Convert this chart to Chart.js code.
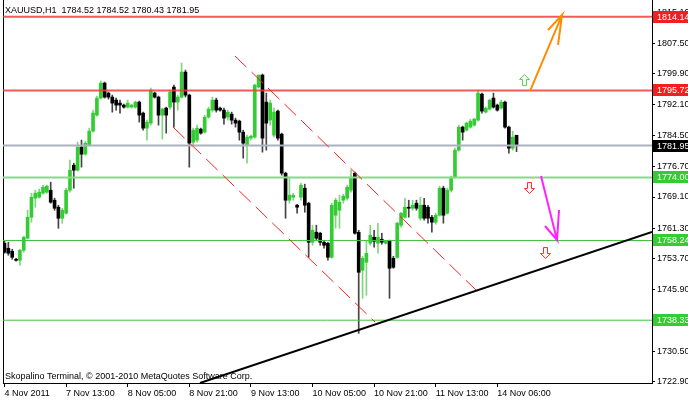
<!DOCTYPE html>
<html>
<head>
<meta charset="utf-8">
<script src="https://cdn.jsdelivr.net/npm/chart.js@4.4.1/dist/chart.umd.min.js"></script>
<style>
  html, body { margin: 0; padding: 0; background: #fff; }
  canvas { display: block; }
</style>
</head>
<body>
<canvas id="chart" width="688" height="401"></canvas>
<script>
const symbolTitle = 'XAUUSD,H1  1784.52 1784.52 1780.43 1781.95';
const footerText = 'Skopalino Terminal, \u00A9 2001-2010 MetaQuotes Software Corp.';

// H1 candles, 4 Nov 2011 -> 14 Nov 2011
const opens = [
  1757.55, 1756.3, 1755.55, 1753.55, 1753.3, 1755.8, 1758.8, 1764.05, 1768.8, 1769.05,
  1770.05, 1770.3, 1770.8, 1768.3, 1766.55, 1763.8, 1765.05, 1770.8, 1777.05, 1775.8,
  1781.55, 1779.8, 1782.05, 1785.55, 1789.55, 1793.8, 1797.55, 1795.05, 1794.05, 1793.3,
  1792.55, 1792.05, 1791.55, 1791.55, 1791.55, 1792.8, 1790.05, 1786.3, 1787.55, 1795.05,
  1794.05, 1789.55, 1791.3, 1791.55, 1796.55, 1792.8, 1794.05, 1800.3, 1794.55, 1782.8,
  1783.3, 1786.05, 1785.3, 1789.05, 1790.8, 1793.3, 1791.3, 1790.8, 1789.05, 1789.8,
  1788.3, 1788.05, 1785.3, 1782.05, 1783.8, 1784.05, 1796.55, 1799.55, 1792.8, 1788.3,
  1784.55, 1790.55, 1784.8, 1775.05, 1768.3, 1769.05, 1767.05, 1769.05, 1771.3, 1767.55,
  1757.8, 1760.3, 1760.05, 1757.8, 1757.55, 1754.05, 1764.55, 1765.8, 1768.3, 1768.8,
  1770.8, 1775.05, 1760.3, 1750.8, 1752.8, 1757.55, 1759.05, 1757.55, 1758.55, 1757.55,
  1758.3, 1753.8, 1754.05, 1762.05, 1764.05, 1766.55, 1766.3, 1767.55, 1763.8, 1767.05,
  1766.55, 1764.05, 1762.8, 1764.55, 1771.3, 1765.05, 1770.8, 1774.05, 1780.8, 1786.55,
  1785.8, 1786.55, 1787.05, 1788.3, 1794.8, 1790.3, 1791.05, 1793.8, 1792.05, 1791.3,
  1792.8, 1786.55, 1781.3, 1784.52
];
const highs = [
  1758.3, 1757.8, 1756.05, 1753.8, 1756.05, 1759.3, 1765.8, 1770.05, 1770.8, 1771.05,
  1772.05, 1772.05, 1772.8, 1768.8, 1767.05, 1766.3, 1771.3, 1778.3, 1777.55, 1782.8,
  1783.3, 1783.05, 1786.3, 1790.8, 1794.3, 1798.05, 1797.8, 1795.3, 1794.55, 1793.8,
  1793.3, 1792.3, 1793.3, 1792.3, 1793.05, 1793.05, 1790.3, 1788.3, 1796.3, 1795.3,
  1794.3, 1791.3, 1791.55, 1795.8, 1797.05, 1794.55, 1802.55, 1800.8, 1794.8, 1786.3,
  1787.05, 1786.3, 1789.55, 1791.55, 1794.05, 1793.8, 1791.55, 1791.3, 1790.8, 1790.3,
  1788.8, 1788.3, 1785.8, 1784.55, 1784.55, 1797.3, 1799.55, 1799.8, 1795.05, 1793.3,
  1791.3, 1790.8, 1785.05, 1775.3, 1774.05, 1770.05, 1767.3, 1772.55, 1772.3, 1767.8,
  1762.05, 1762.05, 1760.3, 1758.3, 1757.8, 1767.55, 1768.8, 1769.55, 1769.8, 1772.05,
  1775.8, 1775.3, 1760.8, 1754.3, 1758.3, 1762.05, 1760.8, 1762.55, 1760.05, 1758.3,
  1758.3, 1754.3, 1762.8, 1765.3, 1768.8, 1768.3, 1768.3, 1768.3, 1769.05, 1768.8,
  1767.05, 1764.55, 1765.05, 1771.8, 1771.8, 1771.3, 1774.3, 1781.3, 1787.05, 1786.8,
  1787.8, 1788.55, 1788.8, 1795.8, 1795.05, 1791.55, 1793.55, 1795.05, 1792.3, 1793.3,
  1793.05, 1786.8, 1785.55, 1784.52
];
const lows = [
  1755.05, 1754.55, 1753.55, 1753.05, 1752.05, 1755.3, 1758.8, 1762.8, 1766.55, 1768.8,
  1769.8, 1770.05, 1767.55, 1765.8, 1761.3, 1762.55, 1764.8, 1770.3, 1771.3, 1775.55,
  1776.55, 1779.55, 1781.8, 1785.3, 1789.3, 1793.55, 1793.8, 1793.55, 1790.3, 1790.8,
  1790.05, 1791.3, 1791.3, 1791.3, 1791.3, 1787.8, 1785.8, 1783.3, 1787.05, 1793.8,
  1787.05, 1783.55, 1785.05, 1791.05, 1786.55, 1790.8, 1793.8, 1794.05, 1776.55, 1782.05,
  1782.8, 1784.8, 1785.05, 1788.8, 1790.3, 1790.3, 1790.55, 1787.3, 1788.3, 1787.3,
  1786.55, 1783.3, 1778.8, 1777.55, 1783.3, 1783.8, 1796.3, 1780.3, 1780.8, 1787.05,
  1784.05, 1783.3, 1774.55, 1763.8, 1767.55, 1768.3, 1765.05, 1768.3, 1765.3, 1754.05,
  1757.05, 1758.3, 1757.05, 1756.3, 1753.3, 1753.8, 1761.3, 1761.3, 1767.55, 1768.3,
  1770.3, 1759.8, 1735.05, 1743.8, 1744.55, 1757.05, 1756.55, 1755.05, 1757.3, 1757.3,
  1743.8, 1751.3, 1753.8, 1761.55, 1763.8, 1764.05, 1765.8, 1765.8, 1763.3, 1763.3,
  1762.55, 1760.3, 1762.3, 1764.3, 1762.55, 1764.8, 1770.3, 1773.8, 1780.55, 1783.3,
  1785.55, 1786.3, 1786.8, 1788.05, 1790.05, 1790.05, 1790.8, 1791.3, 1790.55, 1791.05,
  1786.3, 1780.05, 1780.8, 1780.43
];
const closes = [
  1755.3, 1755.05, 1754.05, 1753.3, 1755.8, 1759.05, 1764.05, 1769.05, 1770.05, 1770.3,
  1771.55, 1771.8, 1767.8, 1766.3, 1763.8, 1765.8, 1770.8, 1775.8, 1775.8, 1781.55,
  1779.8, 1782.55, 1785.55, 1790.05, 1793.8, 1797.55, 1794.05, 1794.05, 1792.55, 1792.05,
  1792.05, 1791.55, 1792.55, 1792.05, 1792.8, 1789.55, 1786.3, 1787.8, 1795.8, 1794.05,
  1789.55, 1791.05, 1789.55, 1795.3, 1792.8, 1794.05, 1800.3, 1794.55, 1782.55, 1785.8,
  1786.3, 1785.05, 1789.05, 1791.05, 1793.3, 1790.8, 1790.8, 1788.8, 1790.3, 1788.3,
  1787.55, 1785.3, 1782.55, 1784.05, 1784.3, 1797.05, 1799.55, 1783.8, 1787.55, 1792.55,
  1790.3, 1783.8, 1775.05, 1768.3, 1769.55, 1769.55, 1766.55, 1772.05, 1767.05, 1757.8,
  1760.8, 1758.8, 1757.8, 1757.05, 1754.05, 1767.05, 1768.3, 1767.8, 1769.3, 1771.55,
  1774.05, 1760.05, 1750.3, 1753.8, 1755.05, 1759.55, 1758.05, 1759.05, 1757.8, 1758.05,
  1751.3, 1751.55, 1762.55, 1765.05, 1766.55, 1766.3, 1767.05, 1766.3, 1767.05, 1763.8,
  1763.8, 1762.8, 1764.55, 1771.3, 1764.55, 1770.8, 1774.05, 1780.8, 1786.55, 1785.3,
  1787.55, 1788.05, 1788.55, 1795.05, 1790.55, 1791.3, 1793.3, 1791.55, 1790.8, 1792.8,
  1786.55, 1781.3, 1784.05, 1781.95
];

const xTickIdx = [0, 16, 32, 48, 64, 80, 96, 112, 128];
const xTickLabels = ['4 Nov 2011', '7 Nov 13:00', '8 Nov 05:00', '8 Nov 21:00', '9 Nov 13:00',
  '10 Nov 05:00', '10 Nov 21:00', '11 Nov 13:00', '14 Nov 06:00'];
const yTicks = [1722.90, 1730.50, 1738.30, 1745.90, 1753.70, 1761.30, 1769.10,
  1776.70, 1784.50, 1792.10, 1799.90, 1807.50, 1815.10];

// horizontal price levels
const levels = [1814.14, 1795.72, 1781.95, 1774.00, 1758.24, 1738.33];

// drawn objects, as [barIndex, price] points
const channelUpper = [[59.87, 1804.31], [122.73, 1745.62]];
const channelLower = [[43.77, 1786.58], [96.23, 1737.88]];
const trendLine = [[50.78, 1722.65], [168.18, 1760.36]];
const orangeArrow = [[136.49, 1795.57], [144.81, 1814.55], [141.17, 1810.81], [144.81, 1814.55], [143.77, 1807.06]];
const magentaArrow = [[139.35, 1774.34], [143.51, 1758.36], [140.39, 1761.86], [143.51, 1758.36], [144.03, 1765.85]];
const upSign = [[134.94, 1798.32]];
const downSigns = [[136.23, 1771.6], [140.39, 1755.36]];

const xMin = -0.39, xMax = 168.18;
const yMin = 1722.65, yMax = 1818.3;

const levelColors = ['rgba(240,60,60,0.85)', 'rgba(240,60,60,0.85)', '#aab2be', '#86da86', '#44c044', '#44c044'];
const levelBoxColors = ['#f02020', '#f02020', '#000000', '#33cc33', '#33cc33', '#33cc33'];

const bull = opens.map((o, i) => closes[i] >= o);
const toPts = (arr) => arr.map(p => ({ x: p[0], y: p[1] }));

const datasets = [
  {
    type: 'line', data: toPts(orangeArrow), borderColor: '#ff8c00', borderWidth: 2,
    pointRadius: 0, fill: false, tension: 0, order: 0
  },
  {
    type: 'line', data: toPts(magentaArrow), borderColor: '#ff22ff', borderWidth: 2,
    pointRadius: 0, fill: false, tension: 0, order: 0
  },
  {
    type: 'line', data: toPts(trendLine), borderColor: '#000', borderWidth: 2,
    pointRadius: 0, fill: false, order: 1
  },
  {
    type: 'line', data: toPts(channelUpper), borderColor: '#ff2020', borderWidth: 1,
    borderDash: [16, 7], pointRadius: 0, fill: false, order: 2
  },
  {
    type: 'line', data: toPts(channelLower), borderColor: '#ff2020', borderWidth: 1,
    borderDash: [16, 7], pointRadius: 0, fill: false, order: 2
  }
];

levels.forEach((v, k) => {
  datasets.push({
    type: 'line', data: [{ x: xMin, y: v }, { x: xMax, y: v }],
    borderColor: levelColors[k], borderWidth: k >= 4 ? 1 : 2,
    pointRadius: 0, fill: false, order: 3
  });
});

// candle bodies
datasets.push({
  type: 'bar',
  data: opens.map((o, i) => ({ x: i, y: [o, closes[i]] })),
  backgroundColor: bull.map(b => b ? '#33cc33' : '#000000'),
  borderWidth: 0, barThickness: 3, minBarLength: 1, grouped: false, order: 4
});
// candle wicks
datasets.push({
  type: 'bar',
  data: lows.map((l, i) => ({ x: i, y: [l, highs[i]] })),
  backgroundColor: bull.map(b => b ? '#7fd67f' : '#444444'),
  borderWidth: 0, barThickness: 1, grouped: false, order: 5
});

function drawArrowSign(ctx, cx, cy, up, stroke, fill) {
  const s = up ? 1 : -1;
  const pts = [[0, -6], [5, -1], [2, -1], [2, 5], [-2, 5], [-2, -1], [-5, -1]];
  ctx.beginPath();
  pts.forEach((p, i) => {
    const px = cx + p[0] + 0.5, py = cy + s * p[1] + 0.5;
    if (i === 0) ctx.moveTo(px, py); else ctx.lineTo(px, py);
  });
  ctx.closePath();
  ctx.fillStyle = fill;
  ctx.fill();
  ctx.strokeStyle = stroke;
  ctx.lineWidth = 1;
  ctx.stroke();
}

const noPad = (s) => { s.paddingTop = 0; s.paddingBottom = 0; s.paddingLeft = 0; s.paddingRight = 0; };

const decor = {
  id: 'decor',
  beforeDatasetsDraw(chart) {
    const { ctx, chartArea: a } = chart;
    ctx.save();
    ctx.fillStyle = '#000';
    ctx.font = '9px "Liberation Sans", Arial, sans-serif';
    ctx.textBaseline = 'middle';
    ctx.textAlign = 'left';
    ctx.fillText(symbolTitle, a.left + 2, a.top + 11);
    ctx.fillText(footerText, a.left + 2, a.bottom - 6);
    ctx.strokeStyle = '#000';
    ctx.lineWidth = 1;
    ctx.beginPath();
    ctx.moveTo(a.left + 0.5, a.top);
    ctx.lineTo(a.left + 0.5, a.bottom);
    ctx.stroke();
    ctx.restore();
  },
  afterDatasetsDraw(chart) {
    const { ctx } = chart;
    const xs = chart.scales.x, ys = chart.scales.y;
    ctx.save();
    upSign.forEach(p => drawArrowSign(ctx, Math.round(xs.getPixelForValue(p[0])),
      Math.round(ys.getPixelForValue(p[1])), true, '#66cc66', '#f4fff0'));
    downSigns.forEach(p => drawArrowSign(ctx, Math.round(xs.getPixelForValue(p[0])),
      Math.round(ys.getPixelForValue(p[1])), false, '#ff3030', '#fff4f0'));
    ctx.restore();
  },
  afterDraw(chart) {
    const { ctx, chartArea: a } = chart;
    const ys = chart.scales.y;
    ctx.save();
    ctx.font = '9px "Liberation Sans", Arial, sans-serif';
    ctx.textBaseline = 'middle';
    ctx.textAlign = 'left';
    levels.forEach((v, k) => {
      const py = Math.round(ys.getPixelForValue(v));
      ctx.fillStyle = levelBoxColors[k];
      ctx.fillRect(a.right + 1, py - 6, chart.width - a.right, 12);
      ctx.fillStyle = '#fff';
      ctx.fillText(v.toFixed(2), a.right + 5, py + 0.5);
    });
    ctx.restore();
  }
};

Chart.defaults.font.family = '"Liberation Sans", Arial, sans-serif';
Chart.defaults.font.size = 9;
Chart.defaults.color = '#000';

new Chart(document.getElementById('chart'), {
  type: 'bar',
  data: { datasets: datasets },
  options: {
    responsive: false,
    animation: false,
    events: [],
    layout: { padding: { left: 3, top: 0, right: 0, bottom: 0 } },
    plugins: { legend: { display: false }, tooltip: { enabled: false } },
    scales: {
      x: {
        type: 'linear', position: 'bottom', min: xMin, max: xMax, offset: false,
        afterBuildTicks: (s) => { s.ticks = xTickIdx.map(v => ({ value: v })); },
        afterFit: (s) => { s.height = 18; noPad(s); },
        ticks: {
          callback: (v, i) => xTickLabels[i], align: 'start', maxRotation: 0,
          autoSkip: false, padding: 1, color: '#000'
        },
        grid: { drawOnChartArea: false, drawTicks: true, tickLength: 4, color: '#000', offset: false },
        border: { display: true, color: '#000' }
      },
      y: {
        type: 'linear', position: 'right', min: yMin, max: yMax,
        afterBuildTicks: (s) => { s.ticks = yTicks.map(v => ({ value: v })); },
        afterFit: (s) => { s.width = 36; noPad(s); },
        ticks: { callback: (v) => v.toFixed(2), padding: 2, autoSkip: false, color: '#000' },
        grid: { drawOnChartArea: false, drawTicks: true, tickLength: 3, color: '#000' },
        border: { display: true, color: '#000' }
      }
    }
  },
  plugins: [decor]
});
</script>
</body>
</html>
